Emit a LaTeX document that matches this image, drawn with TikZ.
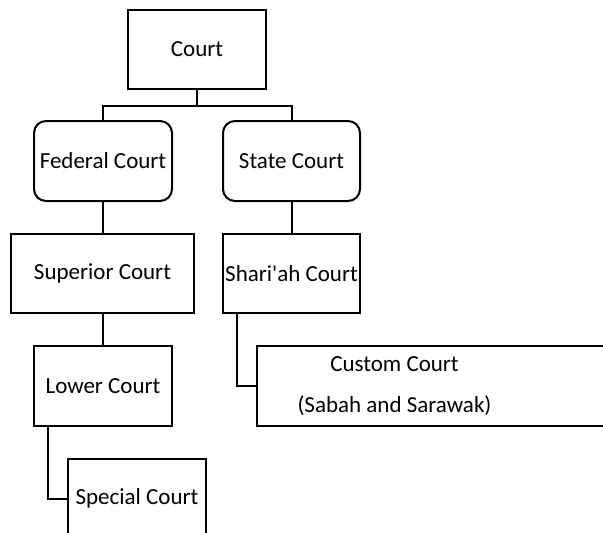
\documentclass[tikz,border=0pt]{standalone}
\usepackage{fontspec}
\setmainfont{Carlito}
\begin{document}
\begin{tikzpicture}[x=1pt,y=-1pt,
  box/.style={draw=black, line width=2pt, inner sep=0pt, minimum width=138pt, minimum height=79pt,
    font=\fontsize{23}{28}\selectfont},
  rbox/.style={box, rounded corners=12pt},
  link/.style={draw=black, line width=2pt}]
\useasboundingbox (0,0) rectangle (603,533);
\clip (0,0) rectangle (603,533);
% top level
\node[box] (court) at (197,49.5) {Court};
% second level
\node[rbox, minimum height=80pt] (federal) at (103,161) {Federal Court};
\node[rbox, minimum width=137pt, minimum height=80pt] (state) at (291.5,161) {State Court};
% third level
\node[box, minimum width=183pt] (superior) at (102.5,273.5) {Superior Court};
\node[box, minimum width=137pt] (shariah) at (291.5,273.5) {Shari\textquotesingle ah Court};
% lower levels
\node[box, minimum height=80pt] (lower) at (103,386) {Lower Court};
\node[box, minimum width=383pt, minimum height=80pt] (custom) at (448.5,386) {};
\node[align=center, inner sep=0pt, font=\fontsize{23}{41}\selectfont] (customtxt) at (394.5,386)
  {Custom Court\\(Sabah and Sarawak)};
\node[box] (special) at (137,498.5) {Special Court};
% connectors
\draw[link] (court.south) -- ++(0,16) -| (federal.north);
\draw[link] (court.south) -- ++(0,16) -| (state.north);
\draw[link] (federal.south) -- (federal.south |- superior.north);
\draw[link] (state.south) -- (shariah.north);
\draw[link] (superior.south) -- (superior.south |- lower.north);
\draw[link] ([xshift=-54.5pt]shariah.south) |- (custom.west);
\draw[link] ([xshift=-55pt]lower.south) |- (special.west);
\end{tikzpicture}
\end{document}
